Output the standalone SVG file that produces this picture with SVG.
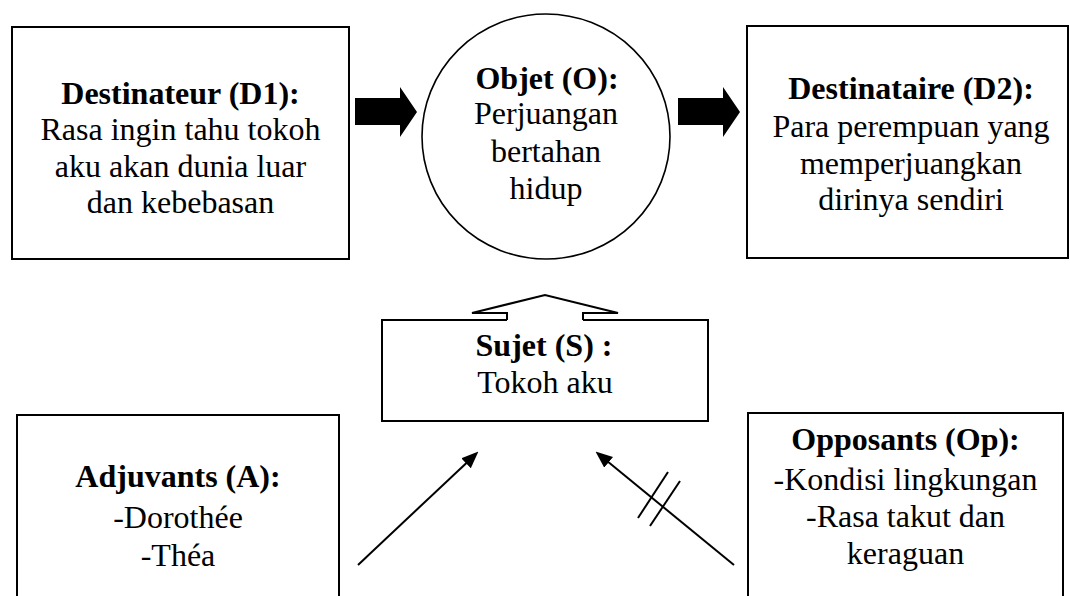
<svg xmlns="http://www.w3.org/2000/svg" width="1070" height="596" viewBox="0 0 1070 596">
  <style>
    .box { fill: #ffffff; stroke: #000000; stroke-width: 2; }
    .t { font-family: "Liberation Serif", "Times New Roman", serif; font-size: 32px; fill: #000000; text-anchor: middle; }
    .b { font-weight: bold; }
    .ln { fill: none; stroke: #000000; stroke-width: 2; }
    .blk { fill: #000000; stroke: none; }
  </style>
  <defs>
    <marker id="ah" markerUnits="userSpaceOnUse" markerWidth="17" markerHeight="14" refX="6" refY="6.5" orient="auto" viewBox="0 0 16 13">
      <path d="M0,0 L16,6.5 L0,13 Z" fill="#000000"/>
    </marker>
  </defs>
  <rect x="0" y="0" width="1070" height="596" fill="#ffffff"/>

  <g id="destinateur">
    <rect class="box" x="12" y="27" width="337" height="232"/>
    <text class="t b" x="180.5" y="104">Destinateur (D1):</text>
    <text class="t" x="180.5" y="139.5">Rasa ingin tahu tokoh</text>
    <text class="t" x="180.5" y="176.5">aku akan dunia luar</text>
    <text class="t" x="180.5" y="213">dan kebebasan</text>
  </g>

  <g id="objet">
    <ellipse cx="546" cy="136.5" rx="124" ry="122.5" fill="#ffffff" stroke="#000000" stroke-width="1.6"/>
    <text class="t b" x="547" y="88.5">Objet (O):</text>
    <text class="t" x="546" y="124">Perjuangan</text>
    <text class="t" x="546" y="161.5">bertahan</text>
    <text class="t" x="546" y="198.5">hidup</text>
  </g>

  <g id="destinataire">
    <rect class="box" x="747" y="26" width="321" height="232"/>
    <text class="t b" x="911" y="98.5">Destinataire (D2):</text>
    <text class="t" x="911" y="136.5">Para perempuan yang</text>
    <text class="t" x="911" y="173.5">memperjuangkan</text>
    <text class="t" x="911" y="210">dirinya sendiri</text>
  </g>

  <g id="sujet">
    <path class="ln" d="M507,320 H382 V421 H708 V320 H583"/>
    <text class="t b" x="544" y="356">Sujet (S) :</text>
    <text class="t" x="545" y="393">Tokoh aku</text>
  </g>

  <g id="adjuvants">
    <rect class="box" x="17" y="415" width="322" height="200"/>
    <text class="t b" x="178" y="487">Adjuvants (A):</text>
    <text class="t" x="178" y="527.5">-Dorothée</text>
    <text class="t" x="178" y="565.5">-Théa</text>
  </g>

  <g id="opposants">
    <rect class="box" x="748" y="413" width="315" height="200"/>
    <text class="t b" x="905.5" y="450">Opposants (Op):</text>
    <text class="t" x="905.5" y="490">-Kondisi lingkungan</text>
    <text class="t" x="905.5" y="527">-Rasa takut dan</text>
    <text class="t" x="905.5" y="564">keraguan</text>
  </g>

  <g id="connectors">
    <path class="blk" d="M355,98 H400 V87 L417,112 L400,137 V125 H355 Z"/>
    <path class="blk" d="M678,98 H723 V87 L740,112 L723,137 V125 H678 Z"/>
    <path class="ln" d="M507,320 V313 H472 L545,295 L618,313 H583 V320"/>
    <line class="ln" x1="358" y1="565" x2="470.7" y2="458.9" marker-end="url(#ah)"/>
    <line class="ln" x1="734" y1="565" x2="603.7" y2="458.3" marker-end="url(#ah)"/>
    <line class="ln" x1="638" y1="518" x2="668" y2="472"/>
    <line class="ln" x1="650" y1="526" x2="680" y2="481"/>
  </g>
</svg>
